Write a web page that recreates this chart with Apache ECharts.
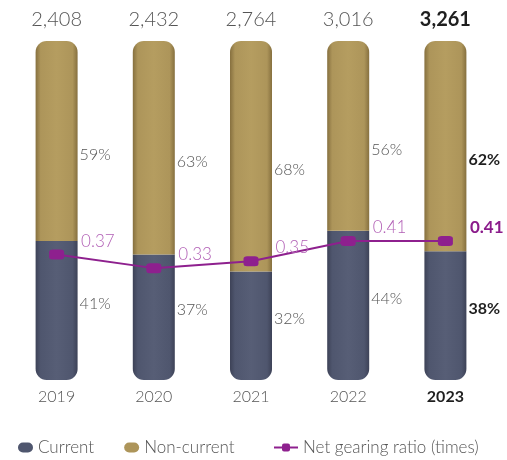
<!DOCTYPE html>
<html>
<head>
<meta charset="utf-8">
<script src="https://cdn.jsdelivr.net/npm/echarts@6/dist/echarts.min.js"></script>
<style>
  html, body { margin: 0; padding: 0; background: #ffffff; }
  #chart { width: 507px; height: 460px; }
</style>
</head>
<body>
<div id="chart"></div>
<script>
// Debt composition by year (share of total, %) and net gearing ratio
const years = ['2019', '2020', '2021', '2022', '2023'];
const totals = [2408, 2432, 2764, 3016, 3261];
const currentPct = [41, 37, 32, 44, 38];
const nonCurrentPct = [59, 63, 68, 56, 62];
const gearing = [0.37, 0.33, 0.35, 0.41, 0.41];

const FONT = 'Lato';
const LIGHT = 300;
const GREY = '#555555';
const DARK = '#1f1f1f';
const LAST = years.length - 1;

// Horizontal shading gives each bar a rounded, cylinder-like look
function cylinder(edge, mid, light) {
  return new echarts.graphic.LinearGradient(0, 0, 1, 0, [
    { offset: 0, color: edge },
    { offset: 0.12, color: mid },
    { offset: 0.5, color: light },
    { offset: 0.88, color: mid },
    { offset: 1, color: edge }
  ]);
}
const navyFill = cylinder('#3d4257', '#4f566e', '#575e76');
const goldFill = cylinder('#86703f', '#ad955a', '#b59d60');

// Pill-shaped legend marker
const PILL = 'path://M5,0 L10,0 A5,5 0 0 1 10,10 L5,10 A5,5 0 0 1 5,0 Z';

const fmtThousands = v => v.toLocaleString('en-US');
const boldLast = i => (i === LAST ? { color: DARK, fontWeight: 'bold' } : {});

const chart = echarts.init(document.getElementById('chart'));
chart.setOption({
  animation: false,
  textStyle: { fontFamily: FONT },
  grid: { left: 8, right: 13, top: 41, bottom: 80 },
  legend: [
    {
      left: 13, top: 434, itemWidth: 15, itemHeight: 10, itemGap: 30,
      textStyle: { fontFamily: FONT, fontSize: 17, fontWeight: LIGHT, color: GREY },
      data: [
        { name: 'Current', icon: PILL, itemStyle: { color: '#4f566e' } },
        { name: 'Non-current', icon: PILL, itemStyle: { color: '#ad955a' } }
      ]
    },
    {
      left: 268, top: 434, itemWidth: 24, itemHeight: 10,
      textStyle: { fontFamily: FONT, fontSize: 17, fontWeight: LIGHT, color: GREY },
      data: ['Net gearing ratio (times)']
    }
  ],
  xAxis: {
    type: 'category',
    data: years.map((y, i) => ({ value: y, textStyle: boldLast(i) })),
    axisLine: { show: false },
    axisTick: { show: false },
    axisLabel: {
      margin: 9,
      fontSize: 16,
      fontFamily: FONT,
      fontWeight: LIGHT,
      color: GREY
    }
  },
  yAxis: [
    { type: 'value', min: 0, max: 100, show: false },
    { type: 'value', min: 0, max: 1, show: false }
  ],
  series: [
    {
      name: 'Current',
      type: 'bar',
      stack: 'debt',
      barWidth: 42,
      data: currentPct.map((v, i) => ({ value: v, label: boldLast(i) })),
      itemStyle: { color: navyFill, borderRadius: [0, 0, 11, 11] },
      label: {
        show: true,
        position: 'right',
        distance: 2,
        offset: [0, -7],
        fontSize: 16,
        fontWeight: LIGHT,
        color: GREY,
        formatter: p => p.value + '%'
      }
    },
    {
      name: 'Non-current',
      type: 'bar',
      stack: 'debt',
      barWidth: 42,
      data: nonCurrentPct.map((v, i) => ({ value: v, label: boldLast(i) })),
      itemStyle: { color: goldFill, borderRadius: [11, 11, 0, 0] },
      label: {
        show: true,
        position: 'right',
        distance: 2,
        offset: [0, 14],
        fontSize: 16,
        fontWeight: LIGHT,
        color: GREY,
        formatter: p => p.value + '%'
      }
    },
    {
      // Totals written above each bar
      name: 'Total',
      type: 'bar',
      stack: 'debt',
      barWidth: 42,
      silent: true,
      data: totals.map((t, i) => ({ value: 0, label: boldLast(i) })),
      itemStyle: { color: 'transparent' },
      label: {
        show: true,
        position: 'top',
        distance: 11,
        fontSize: 20,
        fontWeight: LIGHT,
        color: GREY,
        formatter: p => fmtThousands(totals[p.dataIndex])
      }
    },
    {
      name: 'Net gearing ratio (times)',
      type: 'line',
      yAxisIndex: 1,
      data: gearing.map((v, i) => ({
        value: v,
        label: i === LAST ? { color: '#8b1c8b', fontWeight: 'bold' } : {}
      })),
      symbol: 'roundRect',
      symbolSize: [15, 10],
      z: 5,
      lineStyle: { color: '#8e208e', width: 2 },
      itemStyle: { color: '#8e208e' },
      label: {
        show: true,
        position: [32, -17],
        fontSize: 17,
        fontWeight: LIGHT,
        color: '#b260b6',
        formatter: p => p.value.toFixed(2)
      }
    }
  ]
});
</script>
</body>
</html>
